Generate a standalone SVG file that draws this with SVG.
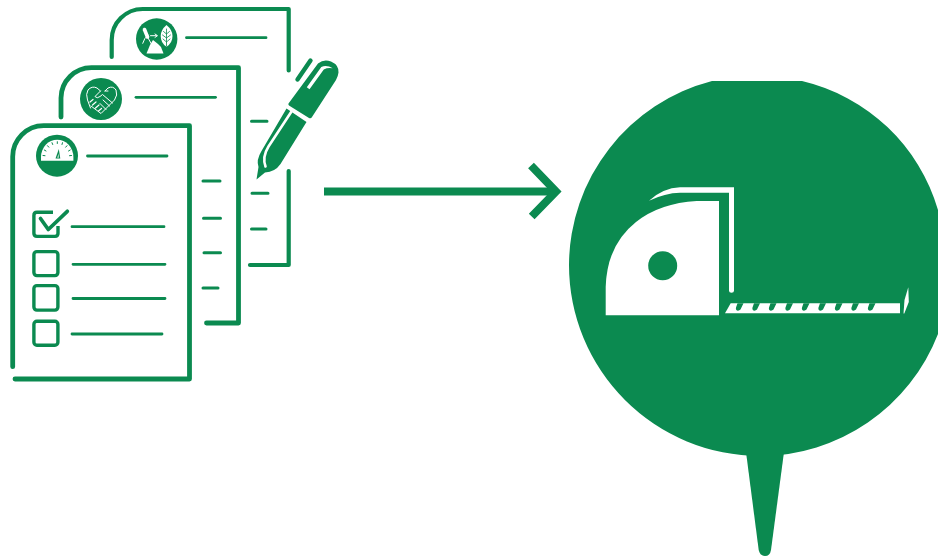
<svg xmlns="http://www.w3.org/2000/svg" width="938" height="557" viewBox="0 0 938 557">
<style>
.g{fill:#0b8a50}
.w{fill:#fff}
.pg{fill:none;stroke:#0b8a50;stroke-width:4.8;stroke-linecap:round;stroke-linejoin:round}
.ln{fill:none;stroke:#0b8a50;stroke-width:2.8;stroke-linecap:round}
.dash{fill:none;stroke:#0b8a50;stroke-width:3;stroke-linecap:round}
.box{fill:none;stroke:#0b8a50;stroke-width:3.4;stroke-linejoin:round}
.wl{fill:none;stroke:#fff;stroke-linecap:round;stroke-linejoin:round}
.gl{fill:none;stroke:#0b8a50;stroke-linecap:round;stroke-linejoin:round}
</style>
<rect width="938" height="557" fill="#fff"/>
<g id="page-back">
<path class="pg" style="stroke-width:4.2" d="M111.7 57V40A31 31 0 0 1 142.700 9H288.700V70.500"/>
<path class="pg" style="stroke-width:4.2" d="M288.700 171V265H250"/>
<path class="ln" d="M186.500 37.700H266"/>
<path class="dash" d="M251.500 121.300H267M252 193.300H268M251.500 229H266"/>
<circle class="g" cx="156.700" cy="39" r="20.700"/>
<path class="wl" stroke-width="3.600" d="M144.500 29.500L147.500 37"/>
<path class="wl" stroke-width="1" d="M147.500 37L152 45M142.700 43.300Q144 38 148.300 35"/>
<path class="w" d="M146.500 53.500L150 45L153 40L158 44L161 47L163.500 53.500Z"/>
<path class="wl" stroke-width="1" d="M150.500 35.700H156.500M155 34L157.500 35.700L155 37.400"/>
<path class="w" d="M166.500 25Q172.500 30 172.500 36Q172.500 43 166.500 46.700Q160.700 43 160.700 36Q160.700 30 166.500 25Z"/>
<path class="gl" stroke-width=".8" d="M166.500 29V46M166.500 34L163.500 31.500M166.500 34L169.500 31.500M166.500 38L162.500 35M166.500 38L170.500 35M166.500 42L163 39M166.500 42L170 39"/>
</g>
<g id="page-middle">
<path class="pg" d="M61 117V98A30.500 30.500 0 0 1 91.500 67.700H238.500V323H206.500"/>
<path class="ln" d="M136 97.300H215.500"/>
<path class="dash" d="M203 181H220M203.500 218.300H220.500M204 252.700H220.500M203 288H218"/>
<circle class="g" cx="101" cy="99" r="21"/>
<path class="wl" stroke-width="1" d="M90.500 108L87.500 100Q85.500 94 88 90Q92 85.500 97 88L100.500 91M105 91L108 88Q113 85.500 116 90Q118 95 114.500 100L101 113.500L91 106"/>
<path class="wl" stroke-width="1" d="M100.500 91L95 96.500Q97 99 100 96.500L102.500 94.500L112.500 103M109.500 106L103 100M106 109.500L100 103.500M105 91H108"/>
<path class="wl" stroke-width="1.200" d="M90 102L93 99.500M92.500 105L96 102M95.500 108L99 105M98.500 111L101.500 108.500"/>
</g>
<g id="page-front">
<path class="pg" d="M12.700 366.700V157A31 31 0 0 1 43.700 125.700H189.500V379H15"/>
<path class="ln" d="M87.500 156H167"/>
<circle class="g" cx="57" cy="155.700" r="21"/>
<path class="w" d="M41 160.700V157A16 17 0 0 1 73.400 157V160.700Z"/>
<path class="gl" stroke-width="1" d="M43 155.500L45 155.700M44.300 150L46 151M47.500 145.700L48.800 147.200M52 142.700L52.700 144.500M57.300 141.700V143.500M62.500 142.700L62 144.500M67 145.700L65.700 147.200M70.200 150L68.500 151M71.500 155.500L69.500 155.700"/>
<path class="g" d="M55.500 158.500L58.800 149L60.300 158.500Z"/>
<path class="w" d="M57.300 157.700L58.500 153.500L58.700 157.700Z"/>
<rect class="box" x="33.900" y="251.600" width="24" height="24" rx="3"/>
<rect class="box" x="33.900" y="285.600" width="24" height="24.500" rx="3"/>
<rect class="box" x="33.900" y="321.300" width="24" height="24" rx="3"/>
<path class="box" d="M53 212.300H37Q33.900 212.300 33.900 215.400V233.300Q33.900 236.400 37 236.400H55Q58 236.400 58 233.300V226"/>
<path fill="none" stroke="#0b8a50" stroke-width="3.700" stroke-linecap="round" stroke-linejoin="round" d="M40.500 218.500L48.300 229.500L67.300 211.300"/>
<path class="ln" d="M72 226.700H164M73 264.300H165M73 298.500H165M72 334H162"/>
</g>
<g id="pen">
<path class="g" d="M288.500 103.500L318 63.500Q324 58.500 331 61.500Q339 65 338.500 72.500Q338 76.500 336 80L312 117Q311 119 309 118L289 105.500Q288 104.500 288.500 103.500Z"/>
<path class="w" d="M332.800 68.300Q326.500 64.500 321.300 67L306.800 87.200L309.500 89.300L323.800 69.500Q327.500 67.500 332.800 68.300Z"/>
<path class="gl" stroke-width="4.400" d="M297.500 79.500L310.500 60.500"/>
<path class="g" d="M286.500 108.500L306.500 122L280.500 164Q275 172 265 172.500L256.500 179.500L258.500 167Q256 160 261.500 151Z"/>
<path class="wl" stroke-width="2.600" stroke-linecap="butt" d="M291.500 111.500L268.500 146.500Q262 157 265.500 166.500"/>
</g>
<g id="connectors">
<path fill="none" stroke="#0b8a50" stroke-width="8" d="M324 191.600H557"/>
<path fill="none" stroke="#0b8a50" stroke-width="8" stroke-linejoin="miter" d="M531 165.500L556 191.500L531.700 216.500"/>
</g>
<g id="tape-pin">
<path class="g" d="M712 81A191 191 0 0 0 569 265A191 191 0 0 0 760 456A191 191 0 0 0 938 334H945V210H938A186 186 0 0 0 802 81Z"/>
<path class="g" d="M746 452L758.700 550Q760 556 765 556Q770 556 771 550L784 452Z"/>
<path class="w" d="M605.700 315.300V286.700Q607 245 636 222Q660 203 696.700 201H719V315.300Z"/>
<circle class="g" cx="662.700" cy="265.700" r="14.500"/>
<path class="w" d="M649 200.700Q663 188 680 187.300H734V290.700Q734 292.700 731.500 292.700Q729 292.700 729 290.700V192.700H680Q665 193 649 200.700Z"/>
<path class="w" d="M725 313.300L730.700 303.300H900V313.300Z"/>
<path class="g" d="M737.500 303.300H743.500L740.500 309.500Q739 311 737 310.500Q735.500 309.500 736 307.500ZM754 303.300H760L757 309.500Q755.500 311 753.500 310.500Q752 309.500 752.500 307.500ZM770.500 303.300H776.500L773.500 309.500Q772 311 770 310.500Q768.500 309.500 769 307.500ZM787 303.300H793L790 309.500Q788.500 311 786.500 310.500Q785 309.500 785.500 307.500ZM803.500 303.300H809.500L806.500 309.500Q805 311 803 310.500Q801.500 309.500 802 307.500ZM820 303.300H826L823 309.500Q821.500 311 819.500 310.500Q818 309.500 818.500 307.500ZM836.500 303.300H842.500L839.500 309.500Q838 311 836 310.500Q834.500 309.500 835 307.500ZM853 303.300H859L856 309.500Q854.500 311 852.500 310.500Q851 309.500 851.500 307.500ZM869.500 303.300H875.500L872.500 309.500Q871 311 869 310.500Q867.500 309.500 868 307.500Z"/>
<path class="w" d="M903.500 313.500L904.500 300L908.300 287.300L908.800 302L904.300 313.500Z"/>
</g>
</svg>
